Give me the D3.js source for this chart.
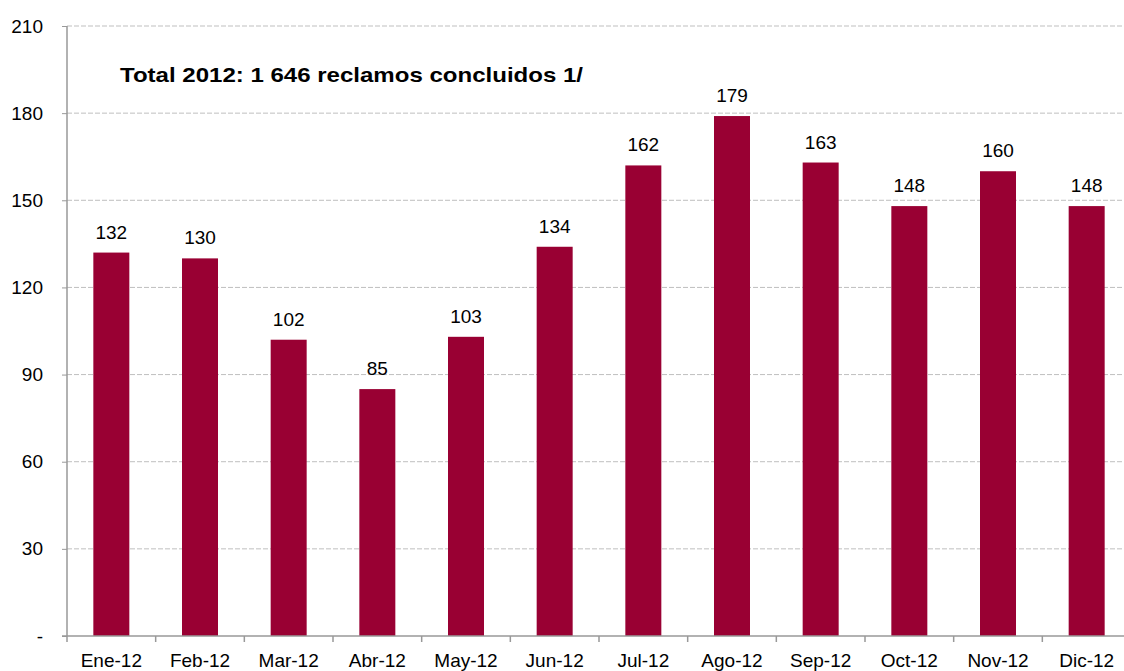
<!DOCTYPE html>
<html><head><meta charset="utf-8">
<script src="https://cdn.jsdelivr.net/npm/d3@7"></script>
<style>body{margin:0;background:#fff}svg{display:block}text{font-family:"Liberation Sans",Arial,sans-serif}</style>
</head><body>
<svg id="c" width="1124" height="671"></svg>
<script>
const categories = ["Ene-12","Feb-12","Mar-12","Abr-12","May-12","Jun-12","Jul-12","Ago-12","Sep-12","Oct-12","Nov-12","Dic-12"];
const values = [132,130,102,85,103,134,162,179,163,148,160,148];
const yTicks = [0,30,60,90,120,150,180,210];
const title = "Total 2012: 1 646 reclamos concluidos 1/";

const svg = d3.select("#c");
const x = d3.scaleBand().domain(categories).range([67,1131]).paddingInner(0.594).paddingOuter(0.297);
const y = d3.scaleLinear().domain([0,210]).range([636,26]);

// gridlines
svg.append("g").selectAll("line").data(yTicks.filter(d=>d>0)).join("line")
  .attr("x1",67).attr("x2",1124).attr("y1",d=>y(d)).attr("y2",d=>y(d))
  .attr("stroke","#bfbfbf").attr("stroke-width",1).attr("stroke-dasharray","5,2");

// bars
svg.append("g").selectAll("rect").data(values).join("rect")
  .attr("x",(d,i)=>x(categories[i])).attr("width",x.bandwidth())
  .attr("y",d=>y(d)).attr("height",d=>y(0)-y(d)).attr("fill","#990033");

// value labels
svg.append("g").selectAll("text").data(values).join("text")
  .attr("x",(d,i)=>x(categories[i])+x.bandwidth()/2).attr("y",d=>y(d)-14)
  .attr("text-anchor","middle").attr("font-size",19).attr("fill","#000").text(d=>d);

// y axis
const yAxis = d3.axisLeft(y).tickValues(yTicks).tickSize(5).tickPadding(19)
  .tickFormat(d=>d===0?"-":d);
const gy = svg.append("g").attr("transform","translate(67,0)").call(yAxis);
gy.select(".domain").attr("stroke","#999").attr("stroke-width",1.5).attr("d","M0,"+y(210)+"V"+y(0));
gy.selectAll(".tick line").attr("stroke","#999");
gy.selectAll(".tick text").attr("font-size",19).attr("fill","#000").attr("font-family","Liberation Sans, Arial, sans-serif");

// x axis
const bounds = categories.map(c=>x(c)-x.step()*x.paddingInner()/2);
bounds.push(1131);
svg.append("line").attr("x1",62).attr("x2",1124).attr("y1",y(0)).attr("y2",y(0)).attr("stroke","#999").attr("stroke-width",1.5);
svg.append("g").selectAll("line").data(bounds).join("line")
  .attr("x1",d=>d).attr("x2",d=>d).attr("y1",y(0)).attr("y2",y(0)+6).attr("stroke","#999").attr("stroke-width",1.5);
svg.append("g").selectAll("text").data(categories).join("text")
  .attr("x",d=>x(d)+x.bandwidth()/2).attr("y",667).attr("text-anchor","middle")
  .attr("font-size",19).attr("fill","#000").text(d=>d);

svg.append("text").attr("x",120).attr("y",82).attr("font-size",21).attr("font-weight","bold")
  .attr("textLength",463).attr("lengthAdjust","spacingAndGlyphs").attr("fill","#000").text(title);
</script>
</body></html>
